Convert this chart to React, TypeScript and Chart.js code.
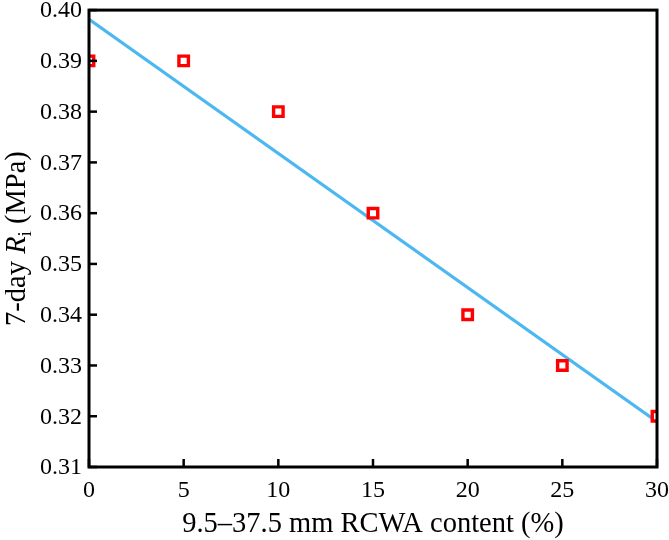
import { useEffect, useRef } from "react";
import { Chart, registerables } from "chart.js";

Chart.register(...registerables);

// Measured 7-day strength vs. RCWA content
const contentPct = [0, 5, 10, 15, 20, 25, 30];
const strengthMPa = [0.39, 0.39, 0.38, 0.36, 0.34, 0.33, 0.32];
// Linear fit end points
const fitX = [0, 30];
const fitY = [0.3982, 0.3189];

const xTicks = [0, 5, 10, 15, 20, 25, 30];
const yTicks = [0.31, 0.32, 0.33, 0.34, 0.35, 0.36, 0.37, 0.38, 0.39, 0.4];
const yTickLabels = ["0.31", "0.32", "0.33", "0.34", "0.35", "0.36", "0.37", "0.38", "0.39", "0.40"];

const FONT = "'Liberation Serif', 'Times New Roman', serif";
const TICK_FS = 24;
const TITLE_FS = 28.5;

const framePlugin = {
  id: "frame",
  afterDatasetsDraw(chart: any) {
    const { ctx, chartArea: a, scales } = chart;
    const x = scales.x;
    const y = scales.y;
    ctx.save();
    ctx.strokeStyle = "#000";
    ctx.lineWidth = 2.5;
    // inward ticks
    const tl = 8;
    xTicks.forEach((v) => {
      const px = x.getPixelForValue(v);
      ctx.beginPath();
      ctx.moveTo(px, a.bottom);
      ctx.lineTo(px, a.bottom - tl);
      ctx.stroke();
    });
    yTicks.forEach((v) => {
      const py = y.getPixelForValue(v);
      ctx.beginPath();
      ctx.moveTo(a.left, py);
      ctx.lineTo(a.left + tl, py);
      ctx.stroke();
    });
    // box
    ctx.lineWidth = 3;
    ctx.strokeRect(a.left, a.top, a.right - a.left, a.bottom - a.top);

    // tick labels
    ctx.fillStyle = "#000";
    ctx.font = `${TICK_FS}px ${FONT}`;
    ctx.textAlign = "center";
    ctx.textBaseline = "alphabetic";
    xTicks.forEach((v) => {
      ctx.fillText(String(v), x.getPixelForValue(v), 497);
    });
    ctx.textAlign = "right";
    ctx.textBaseline = "middle";
    yTicks.forEach((v, i) => {
      ctx.fillText(yTickLabels[i], a.left - 7, y.getPixelForValue(v) + 1);
    });

    // axis titles
    ctx.textBaseline = "alphabetic";
    ctx.textAlign = "center";
    ctx.font = `${TITLE_FS}px ${FONT}`;
    ctx.fillText("9.5–37.5 mm RCWA content (%)", (a.left + a.right) / 2, 532);

    ctx.translate(25, (a.top + a.bottom) / 2);
    ctx.rotate(-Math.PI / 2);
    const parts = [
      { t: "7-day ", f: `${TITLE_FS}px ${FONT}`, dy: 0 },
      { t: "R", f: `italic ${TITLE_FS}px ${FONT}`, dy: 0 },
      { t: "i", f: `${Math.round(TITLE_FS * 0.68)}px ${FONT}`, dy: 6 },
      { t: " (MPa)", f: `${TITLE_FS}px ${FONT}`, dy: 0 },
    ];
    let total = 0;
    parts.forEach((p) => {
      ctx.font = p.f;
      total += ctx.measureText(p.t).width;
    });
    let cx = -total / 2;
    ctx.textAlign = "left";
    parts.forEach((p) => {
      ctx.font = p.f;
      ctx.fillText(p.t, cx, p.dy);
      cx += ctx.measureText(p.t).width;
    });
    ctx.restore();
  },
};

export default function App() {
  const ref = useRef<HTMLCanvasElement>(null);

  useEffect(() => {
    if (!ref.current) return;
    const chart = new Chart(ref.current, {
      type: "scatter",
      data: {
        datasets: [
          {
            type: "line",
            data: fitX.map((v, i) => ({ x: v, y: fitY[i] })),
            borderColor: "#4DB8F0",
            borderWidth: 3.2,
            pointRadius: 0,
            fill: false,
            order: 2,
          },
          {
            data: contentPct.map((v, i) => ({ x: v, y: strengthMPa[i] })),
            pointStyle: "rect",
            pointRadius: 6.7,
            pointBorderWidth: 3.4,
            borderColor: "#FF0000",
            backgroundColor: "#FFFFFF",
            order: 1,
          },
        ],
      },
      options: {
        animation: false,
        responsive: false,
        devicePixelRatio: 1,
        layout: { padding: { top: 8, right: 12, left: 0, bottom: 0 } },
        plugins: { legend: { display: false }, tooltip: { enabled: false } },
        scales: {
          x: {
            type: "linear",
            min: 0,
            max: 30,
            afterFit: (s: any) => {
              s.height = 73;
            },
            grid: { display: false },
            border: { display: false },
            ticks: { display: false },
          },
          y: {
            type: "linear",
            min: 0.31,
            max: 0.4,
            afterFit: (s: any) => {
              s.width = 89;
            },
            grid: { display: false },
            border: { display: false },
            ticks: { display: false },
          },
        },
      },
      plugins: [framePlugin],
    });
    return () => chart.destroy();
  }, []);

  return (
    <div style={{ position: "fixed", left: 0, top: 0, width: 669, height: 540, background: "#fff" }}>
      <canvas ref={ref} width={669} height={540} />
    </div>
  );
}
